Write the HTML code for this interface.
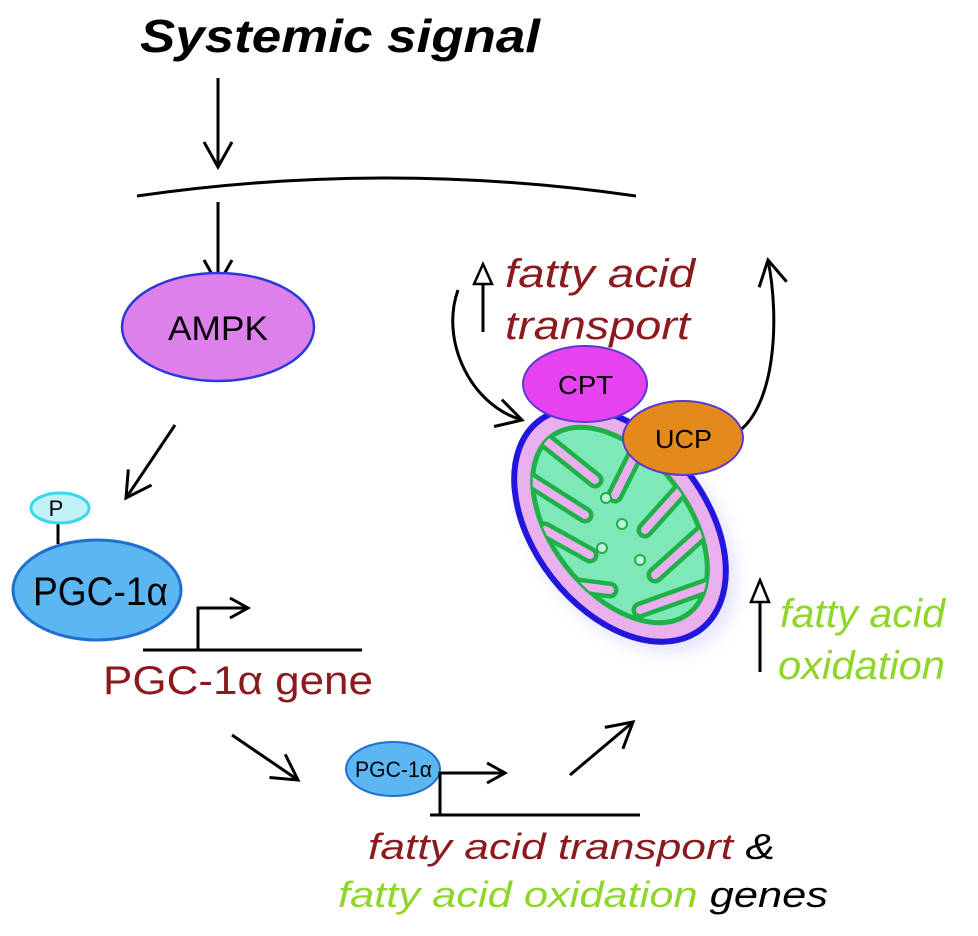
<!DOCTYPE html>
<html><head><meta charset="utf-8"><style>
html,body{margin:0;padding:0;background:#fff;}
svg{display:block;font-family:"Liberation Sans",sans-serif;}
</style></head><body>
<svg width="978" height="936" viewBox="0 0 978 936">
<defs>
<marker id="ahb" markerWidth="34" markerHeight="34" refX="28" refY="17" orient="auto" markerUnits="userSpaceOnUse"><path d="M3,3 L28,17 L3,31" fill="none" stroke="#000" stroke-width="3"/></marker>
<marker id="ahs" markerWidth="24" markerHeight="24" refX="20" refY="12" orient="auto" markerUnits="userSpaceOnUse"><path d="M2,2 L20,12 L2,22" fill="none" stroke="#000" stroke-width="3"/></marker>
<filter id="blur"><feGaussianBlur stdDeviation="8"/></filter>
<clipPath id="inner"><ellipse cx="620" cy="525" rx="112" ry="68" transform="rotate(52 620 525)"/></clipPath>
</defs>
<text x="140" y="52" font-size="46" font-weight="bold" font-style="italic" textLength="400" lengthAdjust="spacingAndGlyphs">Systemic signal</text>
<line x1="218" y1="78" x2="218" y2="167" stroke="#000" stroke-width="3" marker-end="url(#ahb)"/>
<path d="M137,196 Q386,160 636,196" fill="none" stroke="#000" stroke-width="3"/>
<line x1="218" y1="202" x2="218" y2="285" stroke="#000" stroke-width="3" marker-end="url(#ahb)"/>
<g>
<ellipse cx="218" cy="327" rx="96" ry="54" fill="#de80ec" stroke="#2a3ad8" stroke-width="2.5"/>
<text x="168" y="340" font-size="34" textLength="100" lengthAdjust="spacingAndGlyphs">AMPK</text></g>
<line x1="175" y1="425" x2="126" y2="498" stroke="#000" stroke-width="3" marker-end="url(#ahb)"/>
<line x1="58" y1="524" x2="58" y2="544" stroke="#000" stroke-width="3"/>
<g>
<ellipse cx="60" cy="508" rx="29" ry="15" fill="#c0f2f8" stroke="#3ad8ec" stroke-width="3"/>
<text x="56" y="516" font-size="22" text-anchor="middle">P</text></g>
<g>
<ellipse cx="97" cy="590" rx="84" ry="50" fill="#5cb6f2" stroke="#1f6fd0" stroke-width="3"/>
<text x="33" y="605" font-size="40" textLength="135" lengthAdjust="spacingAndGlyphs">PGC-1α</text></g>
<line x1="143" y1="650" x2="362" y2="650" stroke="#000" stroke-width="3"/>
<path d="M198,650 L198,608 L248,608" fill="none" stroke="#000" stroke-width="3" marker-end="url(#ahs)"/>
<text x="103" y="694" font-size="40" fill="#8b1a1e" textLength="270" lengthAdjust="spacingAndGlyphs">PGC-1α gene</text>
<line x1="232" y1="735" x2="298" y2="780" stroke="#000" stroke-width="3" marker-end="url(#ahb)"/>
<g>
<ellipse cx="393" cy="769" rx="47" ry="27" fill="#5cb6f2" stroke="#1f6fd0" stroke-width="2"/>
<text x="355" y="777" font-size="22" textLength="77" lengthAdjust="spacingAndGlyphs">PGC-1α</text></g>
<line x1="430" y1="815" x2="640" y2="815" stroke="#000" stroke-width="3"/>
<path d="M440,815 L440,773 L505,773" fill="none" stroke="#000" stroke-width="3" marker-end="url(#ahs)"/>
<line x1="570" y1="775" x2="633" y2="722" stroke="#000" stroke-width="3" marker-end="url(#ahb)"/>
<text x="368" y="859" font-size="36" font-style="italic" textLength="407" lengthAdjust="spacingAndGlyphs"><tspan fill="#8b1a1e">fatty acid transport</tspan><tspan fill="#000"> &amp;</tspan></text>
<text x="338" y="907" font-size="36" font-style="italic" textLength="490" lengthAdjust="spacingAndGlyphs"><tspan fill="#8fd62a">fatty acid oxidation</tspan><tspan fill="#000"> genes</tspan></text>
<g>
<line x1="483" y1="332" x2="483" y2="282" stroke="#000" stroke-width="3"/>
<path d="M474,284 L483,264 L492,284 Z" fill="#fff" stroke="#000" stroke-width="2.5"/></g>
<text x="505" y="287" font-size="40" font-style="italic" fill="#8b1a1e" textLength="190" lengthAdjust="spacingAndGlyphs">fatty acid</text>
<text x="505" y="339" font-size="40" font-style="italic" fill="#8b1a1e" textLength="185" lengthAdjust="spacingAndGlyphs">transport</text>
<path d="M458,290 C440,340 470,405 522,420" fill="none" stroke="#000" stroke-width="3" marker-end="url(#ahb)"/>
<path d="M738,432 C775,405 780,320 768,260" fill="none" stroke="#000" stroke-width="3" marker-end="url(#ahb)"/>
<g>
<ellipse cx="628" cy="534" rx="135" ry="90" transform="rotate(52 628 534)" fill="#b8b8ff" opacity="0.35" filter="url(#blur)"/>
<ellipse cx="620" cy="525" rx="132" ry="86" transform="rotate(52 620 525)" fill="#eab0ee" stroke="#2216dc" stroke-width="6"/>
<ellipse cx="620" cy="525" rx="112" ry="68" transform="rotate(52 620 525)" fill="#7fe8b8" stroke="#20b048" stroke-width="5"/>
<g clip-path="url(#inner)" stroke-linecap="round" fill="none">
<g stroke="#20b048" stroke-width="17">
<path d="M545,440 L595,480"/><path d="M530,480 L585,515"/><path d="M545,530 L590,555"/><path d="M570,585 L610,590"/>
<path d="M640,445 L615,495"/><path d="M690,480 L645,530"/><path d="M705,530 L655,575"/><path d="M710,585 L640,610"/>
</g>
<g stroke="#eab0ee" stroke-width="8">
<path d="M545,440 L595,480"/><path d="M530,480 L585,515"/><path d="M545,530 L590,555"/><path d="M570,585 L610,590"/>
<path d="M640,445 L615,495"/><path d="M690,480 L645,530"/><path d="M705,530 L655,575"/><path d="M710,585 L640,610"/>
</g></g>
<g fill="#c0f4d8" stroke="#20b048" stroke-width="2">
<circle cx="606" cy="498" r="5"/><circle cx="622" cy="524" r="5"/><circle cx="602" cy="548" r="5"/><circle cx="640" cy="560" r="5"/></g>
</g>
<g>
<ellipse cx="585" cy="384" rx="62" ry="38" fill="#e642f0" stroke="#5a3ad0" stroke-width="2"/>
<text x="558" y="394" font-size="26" textLength="55" lengthAdjust="spacingAndGlyphs">CPT</text></g>
<g>
<ellipse cx="683" cy="438" rx="60" ry="37" fill="#e48a1c" stroke="#5a3ad0" stroke-width="2"/>
<text x="655" y="448" font-size="26" textLength="57" lengthAdjust="spacingAndGlyphs">UCP</text></g>
<g>
<line x1="760" y1="672" x2="760" y2="600" stroke="#000" stroke-width="3"/>
<path d="M751,602 L760,580 L769,602 Z" fill="#fff" stroke="#000" stroke-width="2.5"/></g>
<text x="780" y="627" font-size="40" font-style="italic" fill="#8fd62a" textLength="165" lengthAdjust="spacingAndGlyphs">fatty acid</text>
<text x="778" y="679" font-size="40" font-style="italic" fill="#8fd62a" textLength="167" lengthAdjust="spacingAndGlyphs">oxidation</text>
</svg>
</body></html>
